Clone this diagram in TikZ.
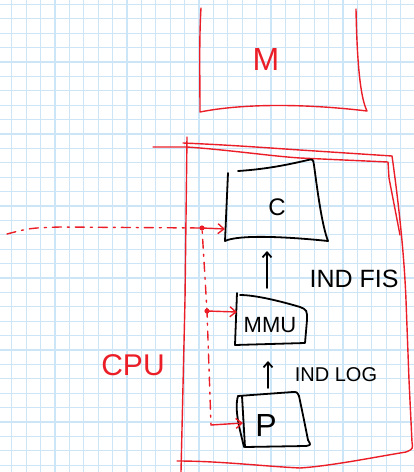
\documentclass[tikz,border=0pt]{standalone}
\usepackage{fontspec}
\setmainfont{Liberation Sans}
\usetikzlibrary{arrows.meta}
\definecolor{gridblue}{RGB}{205,230,247}
\definecolor{penred}{RGB}{235,30,40}
\begin{document}
\begin{tikzpicture}[x=1pt,y=-1pt,
  gridline/.style={gridblue,line width=1.2pt},
  pen/.style={black,line width=1.8pt,line join=round,line cap=round},
  redpen/.style={penred,line width=1.4pt,line join=round,line cap=round},
  reddash/.style={redpen,dash pattern=on 9pt off 6pt on 2pt off 6pt},
  redarrow/.style={redpen,-{Straight Barb[length=6pt,width=10pt]}},
  blkarrow/.style={pen,-{Straight Barb[length=5pt,width=9pt]}},
  lbl/.style={inner sep=0pt,font=\fontsize{#1}{#1}\selectfont},
  rlbl/.style={lbl=#1,text=penred}]
\useasboundingbox (0,0) rectangle (414,472);
\fill[white] (0,0) rectangle (414,472);
% squared paper
\foreach \i in {0,...,27} \draw[gridline] ({11.7+14.4*\i},0) -- ++(0,472);
\foreach \j in {0,...,32} \draw[gridline] (0,{4.3+14.4*\j}) -- ++(414,0);
% memory
\draw[redpen] (201,8) .. controls (199,40) and (200,80) .. (200,112)
  .. controls (240,104) and (300,103) .. (367,111)
  .. controls (360,97) and (357,60) .. (356,9);
\node[rlbl=32] (m) at (266,59) {M};
% cpu
\draw[redpen] (183,143) .. controls (230,145) and (270,148) .. (300,150) -- (392,156) -- (393,163)
  .. controls (398,200) and (404,250) .. (406,300) -- (409,380) -- (412,442)
  .. controls (413,449) .. (406,452) .. controls (370,458) and (330,466) .. (300,468)
  .. controls (260,466) and (220,461) .. (177,461);
\draw[redpen] (153,147) -- (187,147) .. controls (230,150) and (270,156) .. (300,158) -- (388,162) -- (389,178) -- (400,235);
\draw[redpen] (187,137) -- (185,300) -- (181,472);
\node[rlbl=30] (cpu) at (133,365) {CPU};
% cache
\draw[pen] (238,171) .. controls (270,169) and (295,163) .. (308,160) .. controls (313,159) .. (314,165)
  .. controls (318,195) and (322,225) .. (328,241) .. controls (270,235) and (235,236) .. (225,241) -- (228,173);
\node[lbl=24] (c) at (277,207) {C};
% mmu
\draw[pen] (240,295) .. controls (255,295) and (280,301) .. (300,307) .. controls (307,310) .. (307,320)
  -- (305,343) -- (235,345) -- (237,293);
\node[lbl=22] (mmu) at (270,325) {MMU};
% processor
\draw[pen] (238,396) -- (293,392) .. controls (297,392) .. (299,396) .. controls (303,415) .. (308,440)
  .. controls (311,445) .. (306,446) -- (245,447);
\draw[pen] (238,396) .. controls (234,410) and (240,430) .. (244,447);
\draw[pen] (242,396) -- (245,447);
\node[lbl=32] (p) at (266,425) {P};
% addresses
\coordinate (ctop) at (267,251);
\coordinate (mout) at (267,288);
\coordinate (mtop) at (268,361);
\coordinate (pout) at (268,388);
\draw[blkarrow] (mout) -- (ctop);
\draw[blkarrow] (pout) -- (mtop);
\node[lbl=25] (fis) at (354,279) {IND FIS};
\node[lbl=20] (log) at (336,375) {IND LOG};
% control line
\coordinate (in) at (7,234);
\coordinate (jc) at (202,228);
\coordinate (jm) at (207,311);
\coordinate (jp) at (211,425);
\coordinate (cin) at (225,229);
\coordinate (min) at (237,312);
\coordinate (pin) at (243,423);
\draw[reddash] (in) .. controls (30,228) .. (60,227) -- (jc) -- (jm) -- (jp);
\draw[redarrow] (jc) -- (cin);
\draw[redarrow] (jm) -- (min);
\draw[redarrow] (jp) -- (pin);
\fill[penred] (jc) circle[radius=2.6pt];
\fill[penred] (jm) circle[radius=2.6pt];
\end{tikzpicture}
\end{document}
